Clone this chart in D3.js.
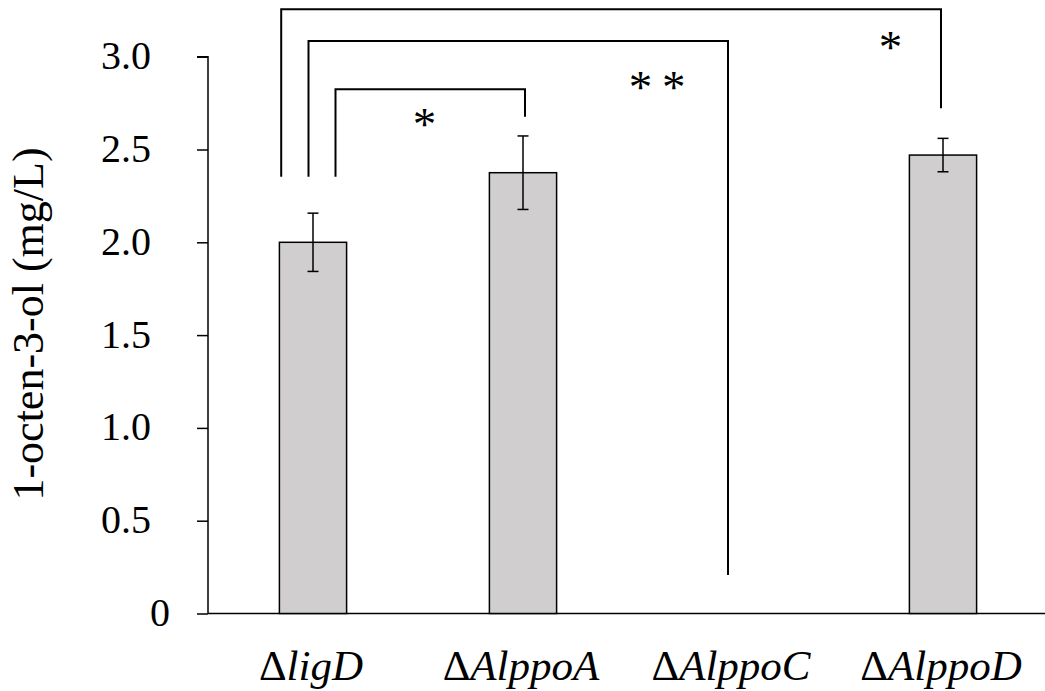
<!DOCTYPE html>
<html>
<head>
<meta charset="utf-8">
<script src="https://cdn.jsdelivr.net/npm/d3@7"></script>
<style>
  html, body { margin: 0; padding: 0; background: #fff; }
  svg { display: block; }
  text { font-family: "Liberation Serif", "Times New Roman", serif; fill: #000; }
</style>
</head>
<body>
<svg id="chart" width="1045" height="691"></svg>
<script>
// Strains (gene deletions) and measured 1-octen-3-ol concentration
const strains = ["ligD", "AlppoA", "AlppoC", "AlppoD"];
const means   = [2.00, 2.375, 0.00, 2.47];
const errors  = [0.157, 0.198, 0.00, 0.09];
const yTicks  = [0, 0.5, 1.0, 1.5, 2.0, 2.5, 3.0];

// Pairwise comparisons against ligD and their significance marks
const compareFrom = ["ligD", "ligD", "ligD"];
const compareTo   = ["AlppoD", "AlppoC", "AlppoA"];
const compareMark = ["*", "* *", "*"];

const svg = d3.select("#chart");
const W = 1045, H = 691;
const plotLeft = 208, plotRight = 1048, plotTop = 56.7, plotBottom = 613.5;

const x = d3.scaleBand()
  .domain(strains)
  .range([plotLeft, plotRight])
  .paddingInner(0.68)
  .paddingOuter(0.34);

const y = d3.scaleLinear().domain([0, 3]).range([plotBottom, plotTop]);

// Y axis
const yAxis = d3.axisLeft(y)
  .tickValues(yTicks)
  .tickSize(11)
  .tickPadding(0)
  .tickFormat(d => d === 0 ? "0" : d3.format(".1f")(d));

const gy = svg.append("g")
  .attr("transform", `translate(${plotLeft},0)`)
  .call(yAxis);
gy.select(".domain").attr("stroke", "#000").attr("stroke-width", 1.5)
  .attr("d", `M-11,${y(3)}H0V${y(0)}`);
gy.selectAll(".tick line").attr("stroke", "#000").attr("stroke-width", 1.5);
gy.selectAll(".tick text")
  .attr("font-size", 40)
  .attr("font-family", "'Liberation Serif', 'Times New Roman', serif")
  .attr("x", d => d === 0 ? -38 : -57)
  .attr("dy", "0.3em");

// Baseline
svg.append("line")
  .attr("x1", plotLeft).attr("x2", W)
  .attr("y1", y(0)).attr("y2", y(0))
  .attr("stroke", "#000").attr("stroke-width", 1.5);

// Y axis title
svg.append("text")
  .attr("transform", `translate(43,${(138 + 510) / 2}) rotate(-90)`)
  .attr("text-anchor", "middle")
  .attr("font-size", 44)
  .text("1-octen-3-ol (mg/L)");

// Bars
const data = strains.map((s, i) => ({ s, v: means[i], e: errors[i] }));

svg.append("g").selectAll("rect")
  .data(data.filter(d => d.v > 0))
  .join("rect")
  .attr("x", d => x(d.s))
  .attr("y", d => y(d.v))
  .attr("width", x.bandwidth())
  .attr("height", d => y(0) - y(d.v))
  .attr("fill", "#d0cece")
  .attr("stroke", "#000")
  .attr("stroke-width", 1.5);

// Error bars
const capHalf = 5.5;
const eb = svg.append("g").selectAll("g")
  .data(data.filter(d => d.e > 0))
  .join("g")
  .attr("stroke", "#000").attr("stroke-width", 1.5);
eb.append("line")
  .attr("x1", d => x(d.s) + x.bandwidth() / 2)
  .attr("x2", d => x(d.s) + x.bandwidth() / 2)
  .attr("y1", d => y(d.v - d.e))
  .attr("y2", d => y(d.v + d.e));
eb.append("line")
  .attr("x1", d => x(d.s) + x.bandwidth() / 2 - capHalf)
  .attr("x2", d => x(d.s) + x.bandwidth() / 2 + capHalf)
  .attr("y1", d => y(d.v + d.e)).attr("y2", d => y(d.v + d.e));
eb.append("line")
  .attr("x1", d => x(d.s) + x.bandwidth() / 2 - capHalf)
  .attr("x2", d => x(d.s) + x.bandwidth() / 2 + capHalf)
  .attr("y1", d => y(d.v - d.e)).attr("y2", d => y(d.v - d.e));

// X category labels: upright delta, italic gene name
const xl = svg.append("g").selectAll("text")
  .data(strains)
  .join("text")
  .attr("x", d => x(d) + x.bandwidth() / 2 - 2)
  .attr("y", 680)
  .attr("text-anchor", "middle")
  .attr("font-size", 43);
xl.append("tspan").text("Δ");
xl.append("tspan").attr("font-style", "italic").text(d => d);

// Significance brackets (levels in data units, leg offsets in px from bar centres)
const bracketGeom = [
  { topV: 3.255, leftEnd: 2.353, rightEnd: 2.722, dl: -31.8, dr: -2,  markDx: -53,  markV: 3.085 },
  { topV: 3.085, leftEnd: 2.353, rightEnd: 0.207, dl: -4.5,  dr: -5,  markDx: -76.5, markV: 2.87 },
  { topV: 2.824, leftEnd: 2.353, rightEnd: 2.677, dl: 22.5,  dr: 2,   markDx: -99,  markV: 2.672 }
];
const cx = s => x(s) + x.bandwidth() / 2;
const br = svg.append("g");
compareFrom.forEach((from, i) => {
  const g = bracketGeom[i];
  const x1 = cx(from) + g.dl, x2 = cx(compareTo[i]) + g.dr;
  br.append("path")
    .attr("d", `M${x1},${y(g.leftEnd)}V${y(g.topV)}H${x2}V${y(g.rightEnd)}`)
    .attr("fill", "none")
    .attr("stroke", "#000")
    .attr("stroke-width", 2);
  br.append("text")
    .attr("x", cx(compareTo[i]) + g.markDx)
    .attr("y", y(g.markV) + 22)
    .attr("text-anchor", "middle")
    .attr("font-size", 47)
    .attr("letter-spacing", -1)
    .text(compareMark[i]);
});
</script>
</body>
</html>
